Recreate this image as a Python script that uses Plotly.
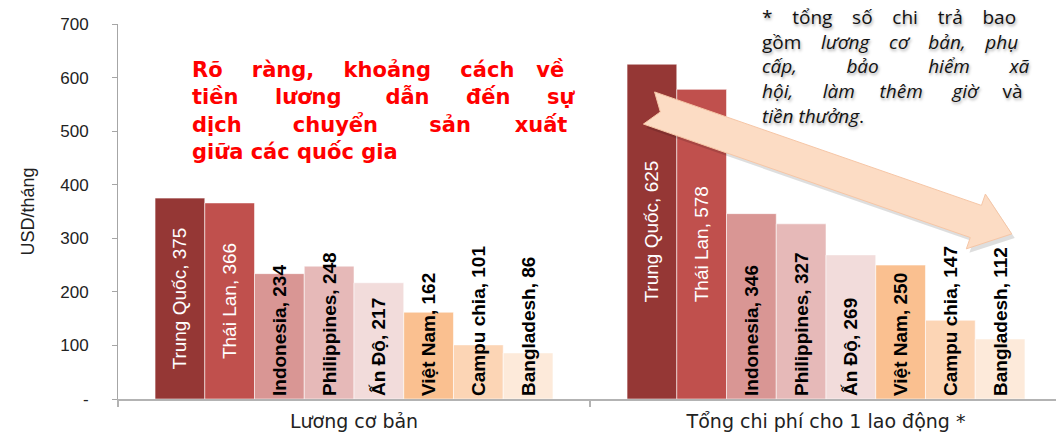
import math
import plotly.graph_objects as go

# ---------------- data ----------------
categories = ["Lương cơ bản", "Tổng chi phí cho 1 lao động *"]
countries = ["Trung Quốc", "Thái Lan", "Indonesia", "Philippines",
             "Ấn Độ", "Việt Nam", "Campu chia", "Bangladesh"]
basic_wage = [375, 366, 234, 248, 217, 162, 101, 86]
total_cost = [625, 578, 346, 327, 269, 250, 147, 112]
y_tick_values = [0, 100, 200, 300, 400, 500, 600, 700]
y_tick_labels = ["-", "100", "200", "300", "400", "500", "600", "700"]

# ---------------- styles ----------------
bar_colors = ["#953735", "#C0504D", "#D99694", "#E6B9B8",
              "#F2DCDB", "#FAC090", "#FCD5B5", "#FDEADA"]
label_colors = ["white", "white", "black", "black", "black", "black", "black", "black"]
label_anchor = ["middle", "middle", "start", "start", "start", "start", "start", "start"]

W, H = 1056, 436
L, R, T, B = 118, 1056, 24, 399  # plot area in pixels


def px(x):
    return (x - L) / (R - L)


def py(y):
    return (B - y) / (B - T)


fig = go.Figure()
for i, name in enumerate(countries):
    vals = [basic_wage[i], total_cost[i]]
    fig.add_trace(go.Bar(
        x=categories, y=vals, name=name,
        marker=dict(color=bar_colors[i], line=dict(color="rgba(255,255,255,0.55)", width=1)),
        text=[f"{name}, {v}" for v in vals],
        textposition="inside", textangle=-90,
        insidetextanchor=label_anchor[i], constraintext="none",
        textfont=dict(color=label_colors[i], size=19,
                      family="Liberation Sans, Arial, sans-serif",
                      weight="normal" if i < 2 else "bold"),
        cliponaxis=False, showlegend=False, hoverinfo="skip",
    ))

# ---------------- arrow (decorative) ----------------
O = (649.0, 108.0)
ang = math.atan2(126, 363)
u = (math.cos(ang), math.sin(ang))
v = (-math.sin(ang), math.cos(ang))
Lr = 384
local = [(0, -17), (Lr - 38, -17), (Lr - 38, -29), (Lr, 0),
         (Lr - 38, 29), (Lr - 38, 17), (0, 17), (12, 0)]


def arrow_path(dx=0.0, dy=0.0):
    pts = []
    for a, b in local:
        X = O[0] + a * u[0] + b * v[0] + dx
        Y = O[1] + a * u[1] + b * v[1] + dy
        pts.append(f"{px(X):.5f},{py(Y):.5f}")
    return "M " + " L ".join(pts) + " Z"


fig.add_shape(type="path", xref="paper", yref="paper", layer="above",
              path=arrow_path(3, 4), fillcolor="rgba(0,0,0,0.13)", line=dict(width=0))
fig.add_shape(type="path", xref="paper", yref="paper", layer="above",
              path=arrow_path(), fillcolor="#FCDCC4",
              line=dict(color="#F6C6A6", width=1))

NB = "\u00a0"


def jline(words, gaps):
    out = words[0]
    for w, g in zip(words[1:], gaps):
        out += NB * g + w
    return out


# ---------------- red message (justified with spacing) ----------------
red_text = "<br>".join([
    jline(["Rõ", "ràng,", "khoảng", "cách", "về"], [4, 4, 4, 3]),
    jline(["tiền", "lương", "dẫn", "đến", "sự"], [5, 6, 5, 5]),
    jline(["dịch", "chuyển", "sản", "xuất"], [7, 7, 6]),
    "giữa các quốc gia",
])
fig.add_annotation(x=px(190), y=py(56), xref="paper", yref="paper",
                   text=red_text, showarrow=False, align="left",
                   xanchor="left", yanchor="top",
                   font=dict(family="DejaVu Sans, Liberation Sans, Arial", size=21,
                             color="#FF0000", weight="bold"))

# ---------------- footnote ----------------
note_text = "<br>".join([
    jline(["*", "tổng", "số", "chi", "trả", "bao"], [4, 4, 4, 4, 4]),
    jline(["gồm", "<i>lương", "cơ", "bản,", "phụ</i>"], [4, 4, 4, 4]),
    "<i>" + jline(["cấp,", "bảo", "hiểm", "xã"], [10, 10, 8]) + "</i>",
    "<i>" + jline(["hội,", "làm", "thêm", "giờ</i>", "và"], [6, 5, 6, 5]),
    "<i>tiền thưởng</i>.",
])
fig.add_annotation(x=px(760), y=py(2), xref="paper", yref="paper",
                   text=note_text, showarrow=False, align="left",
                   xanchor="left", yanchor="top",
                   font=dict(family="Open Sans, Lato, sans-serif", size=19, color="#111111",
                             shadow="1px 2px 3px rgba(0,0,0,0.35)"))

fig.update_layout(
    width=W, height=H,
    margin=dict(l=L, r=W - R, t=T, b=H - B, autoexpand=False),
    paper_bgcolor="white", plot_bgcolor="white",
    barmode="group", bargap=0.157, bargroupgap=0,
    font=dict(family="Liberation Sans, Arial, sans-serif", color="#222222"),
    xaxis=dict(
        range=[-0.5, -0.5 + (R - L) / 472], tickson="boundaries",
        showline=True, linecolor="#B3B3B3", linewidth=1.5,
        ticks="outside", ticklen=6, tickcolor="#B3B3B3", tickwidth=1.5,
        tickfont=dict(family="DejaVu Sans, Liberation Sans", size=19, color="#222222"),
        ticklabelstandoff=4, showgrid=False, fixedrange=True,
    ),
    yaxis=dict(
        range=[0, 700], tickvals=y_tick_values, ticktext=y_tick_labels,
        showline=True, linecolor="#A6A6A6", linewidth=1,
        ticks="outside", ticklen=5, tickcolor="#A6A6A6",
        tickfont=dict(size=17, color="#222222"), ticklabelstandoff=20,
        showgrid=False, zeroline=False, fixedrange=True,
        title=dict(text="USD/tháng", standoff=20,
                   font=dict(family="Liberation Sans Narrow, Arial Narrow, Liberation Sans",
                             size=18, color="#222222")),
    ),
)

fig.write_html("out.html", config={"displayModeBar": False},
               post_script="document.body.style.margin='0';document.body.style.overflow='hidden';")
